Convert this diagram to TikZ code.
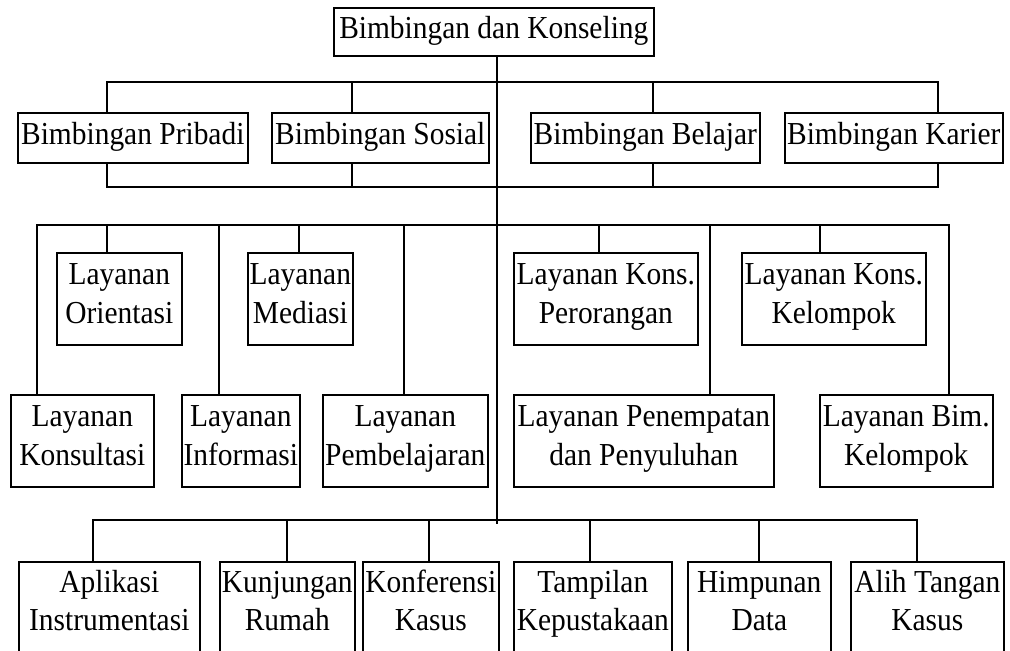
\documentclass[tikz,border=0pt]{standalone}
\usepackage{fontspec}
\setmainfont{Liberation Serif}[FakeStretch=0.92]
\begin{document}
\begin{tikzpicture}[x=1pt,y=-1pt, line width=1.6pt,
  box/.style={draw, inner sep=0pt, anchor=north west, align=center,
              font=\fontsize{32}{38.5}\selectfont},
  one/.style={box, text height=21pt, text depth=8.4pt},
  two/.style={box, text height=58.5pt, text depth=10pt},
  bot/.style={box, text height=48pt, text depth=10pt},
]
\useasboundingbox (0,0) rectangle (1010,651);
% level 0
\node[one, minimum width=320pt, minimum height=48pt] (root) at (333,7) {Bimbingan dan Konseling};
% level 1
\node[one, minimum width=230pt, minimum height=50pt] (p1) at (17,112) {Bimbingan Pribadi};
\node[one, minimum width=217pt, minimum height=50pt] (p2) at (271,112) {Bimbingan Sosial};
\node[one, minimum width=229pt, minimum height=50pt] (p3) at (530,112) {Bimbingan Belajar};
\node[one, minimum width=218pt, minimum height=50pt] (p4) at (784,112) {Bimbingan Karier};
% level 2a
\node[two, minimum width=125pt, minimum height=92pt] (orient) at (56,252) {Layanan\\Orientasi};
\node[two, minimum width=105pt, minimum height=92pt] (mediasi) at (247,252) {Layanan\\Mediasi};
\node[two, minimum width=184pt, minimum height=92pt] (perorangan) at (513,252) {Layanan Kons.\\Perorangan};
\node[two, minimum width=184pt, minimum height=92pt] (kkelompok) at (741,252) {Layanan Kons.\\Kelompok};
% level 2b
\node[two, minimum width=143pt, minimum height=92pt] (konsultasi) at (10,394) {Layanan\\Konsultasi};
\node[two, minimum width=118pt, minimum height=92pt] (informasi) at (181,394) {Layanan\\Informasi};
\node[two, minimum width=165pt, minimum height=92pt] (pembelajaran) at (322,394) {Layanan\\Pembelajaran};
\node[two, minimum width=260pt, minimum height=92pt] (penempatan) at (513,394) {Layanan Penempatan\\dan Penyuluhan};
\node[two, minimum width=173pt, minimum height=92pt] (bimkel) at (819,394) {Layanan Bim.\\Kelompok};
% level 3
\node[bot, minimum width=181pt, minimum height=100pt] (aplikasi) at (18,561) {Aplikasi\\Instrumentasi};
\node[bot, minimum width=135pt, minimum height=100pt] (kunjungan) at (219,561) {Kunjungan\\Rumah};
\node[bot, minimum width=136pt, minimum height=100pt] (konferensi) at (362,561) {Konferensi\\Kasus};
\node[bot, minimum width=158pt, minimum height=100pt] (tampilan) at (513,561) {Tampilan\\Kepustakaan};
\node[bot, minimum width=143pt, minimum height=100pt] (himpunan) at (687,561) {Himpunan\\Data};
\node[bot, minimum width=153pt, minimum height=100pt] (alih) at (850,561) {Alih Tangan\\Kasus};
% trunk
\coordinate (tr) at (497,524);
\draw (root.south -| tr) -- (tr);
% level 1 top bar
\coordinate (a1) at (107,82); \coordinate (a2) at (352,82);
\coordinate (a3) at (653,82); \coordinate (a4) at (938,82);
\draw (p1.north -| a1) -- (a1) -- (a4) -- (p4.north -| a4);
\draw (a2) -- (p2.north -| a2);
\draw (a3) -- (p3.north -| a3);
% level 1 bottom bar
\coordinate (b1) at (107,187); \coordinate (b2) at (352,187);
\coordinate (b3) at (653,187); \coordinate (b4) at (938,187);
\draw (p1.south -| b1) -- (b1) -- (b4) -- (p4.south -| b4);
\draw (p2.south -| b2) -- (b2);
\draw (p3.south -| b3) -- (b3);
% level 2 bar
\coordinate (c1) at (37,225); \coordinate (c2) at (107,225);
\coordinate (c3) at (219,225); \coordinate (c4) at (299,225);
\coordinate (c5) at (404,225); \coordinate (c6) at (599,225);
\coordinate (c7) at (710,225); \coordinate (c8) at (820,225);
\coordinate (c9) at (949,225);
\draw (konsultasi.north -| c1) -- (c1) -- (c9) -- (bimkel.north -| c9);
\draw (c2) -- (orient.north -| c2);
\draw (c3) -- (informasi.north -| c3);
\draw (c4) -- (mediasi.north -| c4);
\draw (c5) -- (pembelajaran.north -| c5);
\draw (c6) -- (perorangan.north -| c6);
\draw (c7) -- (penempatan.north -| c7);
\draw (c8) -- (kkelompok.north -| c8);
% level 3 bar
\coordinate (d1) at (93,520); \coordinate (d2) at (287,520);
\coordinate (d3) at (429,520); \coordinate (d4) at (590,520);
\coordinate (d5) at (759,520); \coordinate (d6) at (917,520);
\draw (aplikasi.north -| d1) -- (d1) -- (d6) -- (alih.north -| d6);
\draw (d2) -- (kunjungan.north -| d2);
\draw (d3) -- (konferensi.north -| d3);
\draw (d4) -- (tampilan.north -| d4);
\draw (d5) -- (himpunan.north -| d5);
\end{tikzpicture}
\end{document}
